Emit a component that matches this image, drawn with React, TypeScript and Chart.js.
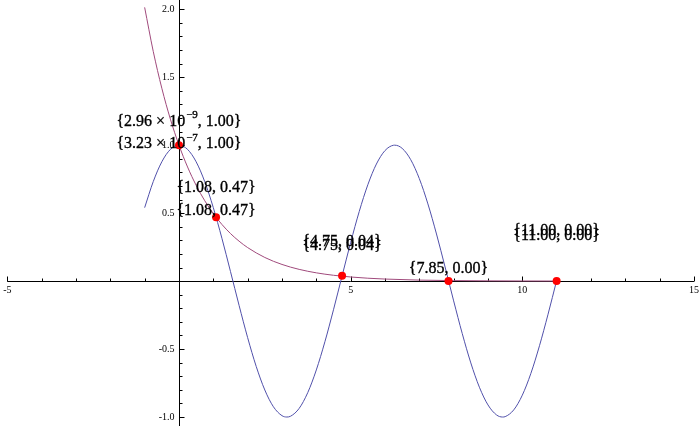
import React, { useEffect, useRef } from "react";
import { Chart, registerables } from "chart.js";

Chart.register(...registerables);

// cos(x) curve, sampled on [-1, 11]
const cosX = [
  -1, -0.75, -0.5, -0.25, 0, 0.25, 0.5, 0.75, 1, 1.25, 1.5, 1.75, 2, 2.25, 2.5, 2.75, 3, 3.1416, 3.25, 3.5,
  3.75, 4, 4.25, 4.5, 4.75, 5, 5.25, 5.5, 5.75, 6, 6.25, 6.2832, 6.5, 6.75, 7, 7.25, 7.5, 7.75, 8, 8.25, 8.5,
  8.75, 9, 9.25, 9.4248, 9.5, 9.75, 10, 10.25, 10.5, 10.75, 11,
];
const cosY = [
  0.5403, 0.7317, 0.8776, 0.9689, 1.0, 0.9689, 0.8776, 0.7317, 0.5403, 0.3153, 0.0707, -0.1782, -0.4161,
  -0.6282, -0.8011, -0.9243, -0.99, -1.0, -0.9941, -0.9365, -0.8206, -0.6536, -0.4461, -0.2108, 0.0376,
  0.2837, 0.5121, 0.7087, 0.8612, 0.9602, 0.9995, 1.0, 0.9766, 0.893, 0.7539, 0.5679, 0.3466, 0.1038,
  -0.1455, -0.3857, -0.602, -0.7808, -0.9111, -0.9848, -1.0, -0.9972, -0.9476, -0.8391, -0.6784, -0.4755,
  -0.2431, 0.0044,
];

// decaying curve, sampled on [-1, 11]
const expX = [-1, -0.75, -0.5, -0.25, 0, 0.25, 0.5, 0.75, 1, 1.25, 1.5, 1.75, 2, 2.5, 3, 3.5, 4, 4.5, 5, 5.5, 6, 7, 8, 9, 10, 11];
const expY = [
  2.0138, 1.6905, 1.4191, 1.1912, 1.0, 0.8395, 0.7047, 0.5916, 0.4966, 0.4169, 0.3499, 0.2938, 0.2466, 0.1738,
  0.1225, 0.0863, 0.0608, 0.0429, 0.0302, 0.0213, 0.015, 0.0074, 0.0037, 0.0018, 0.0009, 0.0005,
];

// intersection points
const ptX = [0, 1.08, 4.75, 7.85, 11.0];
const ptY = [1.0, 0.47, 0.04, 0.0, 0.0];

// annotation texts: main part, superscript, tail
const labelMain = ["{2.96 × 10", "{3.23 × 10", "{1.08, 0.47}", "{1.08, 0.47}", "{4.75, 0.04}", "{4.75, 0.04}", "{7.85, 0.00}", "{11.00, 0.00}", "{11.00, 0.00}"];
const labelSup = ["−9", "−7", "", "", "", "", "", "", ""];
const labelTail = [", 1.00}", ", 1.00}", "", "", "", "", "", "", ""];
const labelX = [0, 0, 1.08, 1.08, 4.75, 4.75, 7.85, 11.0, 11.0];
const labelY = [1.174, 1.009, 0.686, 0.517, 0.289, 0.262, 0.094, 0.37, 0.333];

// axis ticks
const xMajor = [-5, 0, 5, 10, 15];
const xTickLabels = ["-5", "", "5", "10", "15"];
const yMajor = [-1.0, -0.5, 0, 0.5, 1.0, 1.5, 2.0];
const yTickLabels = ["-1.0", "-0.5", "", "0.5", "1.0", "1.5", "2.0"];

const SERIF = "'Liberation Serif', 'Times New Roman', serif";

const axesPlugin = {
  id: "mathAxes",
  beforeDatasetsDraw(chart: any) {
    const ctx = chart.ctx as CanvasRenderingContext2D;
    const xs = chart.scales.x;
    const ys = chart.scales.y;
    const ox = Math.round(xs.getPixelForValue(0)) + 0.5;
    const oy = Math.round(ys.getPixelForValue(0)) + 0.5;
    ctx.save();
    ctx.strokeStyle = "#000";
    ctx.lineWidth = 1;
    ctx.beginPath();
    ctx.moveTo(xs.getPixelForValue(-5), oy);
    ctx.lineTo(xs.getPixelForValue(15), oy);
    ctx.moveTo(ox, chart.chartArea.top);
    ctx.lineTo(ox, chart.chartArea.bottom);
    // x ticks
    for (let v = -5; v <= 15; v += 1) {
      const px = Math.round(xs.getPixelForValue(v)) + 0.5;
      const len = v % 5 === 0 ? 5 : 3;
      ctx.moveTo(px, oy);
      ctx.lineTo(px, oy - len);
    }
    // y ticks
    for (let i = -10; i <= 20; i++) {
      const v = i / 10;
      const py = Math.round(ys.getPixelForValue(v)) + 0.5;
      const len = i % 5 === 0 ? 5 : 3;
      ctx.moveTo(ox, py);
      ctx.lineTo(ox + len, py);
    }
    ctx.stroke();
    ctx.fillStyle = "#000";
    ctx.font = `10px ${SERIF}`;
    ctx.textAlign = "center";
    ctx.textBaseline = "middle";
    xMajor.forEach((v, i) => {
      if (!xTickLabels[i]) return;
      ctx.fillText(xTickLabels[i], xs.getPixelForValue(v), oy + 9);
    });
    ctx.textAlign = "right";
    yMajor.forEach((v, i) => {
      if (!yTickLabels[i]) return;
      ctx.fillText(yTickLabels[i], ox - 5, ys.getPixelForValue(v));
    });
    ctx.restore();
  },
  afterDatasetsDraw(chart: any) {
    const ctx = chart.ctx as CanvasRenderingContext2D;
    const xs = chart.scales.x;
    const ys = chart.scales.y;
    ctx.save();
    ctx.fillStyle = "#000";
    ctx.strokeStyle = "#000";
    ctx.lineWidth = 0.35;
    ctx.textBaseline = "middle";
    ctx.textAlign = "left";
    const mainFont = `16px ${SERIF}`;
    const supFont = `11px ${SERIF}`;
    const put = (t: string, x: number, y: number) => {
      ctx.fillText(t, x, y);
      ctx.strokeText(t, x, y);
    };
    labelMain.forEach((m, i) => {
      ctx.font = mainFont;
      const w1 = ctx.measureText(m).width;
      const w3 = labelTail[i] ? ctx.measureText(labelTail[i]).width : 0;
      ctx.font = supFont;
      const w2 = labelSup[i] ? ctx.measureText(labelSup[i]).width + 1 : 0;
      const total = w1 + w2 + w3;
      const cx = xs.getPixelForValue(labelX[i]);
      const cy = ys.getPixelForValue(labelY[i]);
      let x = cx - total / 2;
      ctx.font = mainFont;
      put(m, x, cy);
      x += w1;
      if (labelSup[i]) {
        ctx.font = supFont;
        put(labelSup[i], x + 1, cy - 6);
        x += w2;
      }
      if (labelTail[i]) {
        ctx.font = mainFont;
        put(labelTail[i], x, cy);
      }
    });
    ctx.restore();
  },
};

export default function App() {
  const ref = useRef<HTMLCanvasElement>(null);
  useEffect(() => {
    document.body.style.margin = "0";
    if (!ref.current) return;
    const chart = new Chart(ref.current, {
      type: "scatter",
      data: {
        datasets: [
          {
            data: cosX.map((x, i) => ({ x, y: cosY[i] })),
            showLine: true,
            borderColor: "#5050aa",
            borderWidth: 1,
            pointRadius: 0,
            cubicInterpolationMode: "monotone",
            order: 2,
          },
          {
            data: expX.map((x, i) => ({ x, y: expY[i] })),
            showLine: true,
            borderColor: "#a04a7c",
            borderWidth: 1,
            pointRadius: 0,
            cubicInterpolationMode: "monotone",
            order: 1,
          },
          {
            data: ptX.map((x, i) => ({ x, y: ptY[i] })),
            showLine: false,
            pointRadius: 4,
            pointBackgroundColor: "#ff0000",
            pointBorderWidth: 0,
            borderColor: "#ff0000",
            order: 0,
          },
        ],
      },
      options: {
        animation: false,
        responsive: false,
        layout: { padding: 0, autoPadding: false },
        plugins: { legend: { display: false }, tooltip: { enabled: false } },
        scales: {
          x: { type: "linear", min: -5.213, max: 15.175, display: false },
          y: { type: "linear", min: -1.066, max: 2.068, display: false },
        },
      },
      plugins: [axesPlugin],
    } as any);
    return () => chart.destroy();
  }, []);
  return (
    <div style={{ position: "absolute", left: 0, top: 0, width: 700, height: 426, background: "#fff" }}>
      <canvas ref={ref} width={700} height={426} style={{ display: "block" }} />
    </div>
  );
}
